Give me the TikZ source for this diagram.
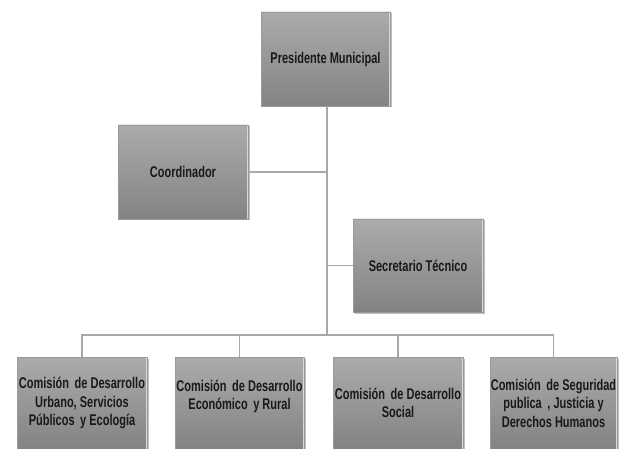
\documentclass[tikz,border=0pt]{standalone}
\usepackage{fontspec}
\setmainfont{Liberation Sans}[FakeStretch=0.71]
\usetikzlibrary{shadows}
\definecolor{boxtop}{HTML}{ABABAB}
\definecolor{boxbot}{HTML}{838383}
\definecolor{boxedge}{HTML}{9A9A9A}
\definecolor{linecol}{HTML}{A8A8A8}
\newcommand{\dsp}{\ \hspace{2.5pt}}
\begin{document}
\begin{tikzpicture}[x=1pt,y=-1pt,
  box/.style={rectangle, inner sep=0pt, outer sep=0pt, align=center,
    top color=boxtop, bottom color=boxbot, draw=boxedge, line width=0.6pt,
    font=\fontsize{15.5}{18.5}\selectfont\bfseries, text=black!90,
    drop shadow={shadow xshift=1.5pt, shadow yshift=-1.5pt, fill=black, opacity=.25},
    path picture={
      \draw[white!75!boxtop, line width=2.2pt]
        (path picture bounding box.north west) -- (path picture bounding box.north east);
      \draw[white!55!boxtop, line width=1.2pt]
        (path picture bounding box.north east) -- (path picture bounding box.south east);
    }},
  conn/.style={draw=linecol, line width=1.8pt}]
\useasboundingbox[fill=white] (0,0) rectangle (621,449);
\node[box, minimum width=129pt, minimum height=94pt] (pres) at (325.5,59) {Presidente Municipal};
\node[box, minimum width=130pt, minimum height=94pt] (coord) at (183,172) {Coordinador};
\node[box, minimum width=130pt, minimum height=93pt] (sec) at (418,265.5) {Secretario Técnico};
\node[box, minimum width=130pt, minimum height=92pt] (c1) at (82,403) {Comisión\dsp de Desarrollo\\Urbano, Servicios\\Públicos\dsp y Ecología};
\node[box, minimum width=129pt, minimum height=92pt] (c2) at (239.5,403) {Comisión\dsp de Desarrollo\\Económico\dsp y Rural\\[-2pt]\mbox{}};
\node[box, minimum width=130pt, minimum height=92pt] (c3) at (398,403) {Comisión\dsp de Desarrollo\\Social};
\node[box, minimum width=127pt, minimum height=92pt] (c4) at (553.5,403) {Comisión\dsp de Seguridad\\publica\dsp , Justicia y\\Derechos Humanos};
\coordinate (j) at (327,335);
\draw[conn] (pres.south -| j) -- (j);
\draw[conn] (coord.east) -- (coord.east -| j);
\draw[conn] (sec.west) -- (sec.west -| j);
\draw[conn] (c1.north) -- (c1.north |- j) -- (c4.north |- j) -- (c4.north);
\draw[conn] (c2.north) -- (c2.north |- j);
\draw[conn] (c3.north) -- (c3.north |- j);
\end{tikzpicture}
\end{document}
